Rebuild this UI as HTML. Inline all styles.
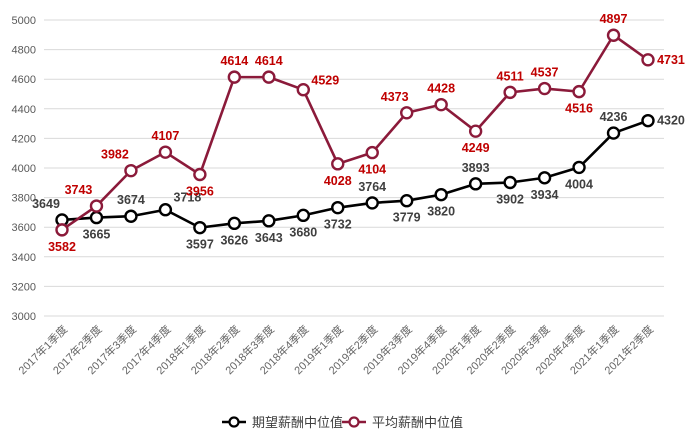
<!DOCTYPE html>
<html><head><meta charset="utf-8"><style>
html,body{margin:0;padding:0;background:#fff;}
svg{display:block;font-family:"Liberation Sans","Noto Sans CJK SC",sans-serif;}
</style></head><body>
<svg id="c" width="697" height="439" xmlns="http://www.w3.org/2000/svg"></svg>
<script>
const s=document.getElementById('c');
let h='';
const Y=v=>316-(v-3000)*0.148;
const X=i=>62+i*34.47;
for(let v=3000;v<=5000;v+=200){const y=Y(v);
h+=`<line x1="44" x2="664" y1="${y}" y2="${y}" stroke="#d9d9d9" stroke-width="1"/>`;
h+=`<text x="36" y="${y+4}" font-size="11" fill="#595959" text-anchor="end">${v}</text>`;}
const cats=["2017年1季度","2017年2季度","2017年3季度","2017年4季度","2018年1季度","2018年2季度","2018年3季度","2018年4季度","2019年1季度","2019年2季度","2019年3季度","2019年4季度","2020年1季度","2020年2季度","2020年3季度","2020年4季度","2021年1季度","2021年2季度"];
cats.forEach((c,i)=>{const x=X(i)+6,y=330;
h+=`<text x="${x}" y="${y}" font-size="11" fill="#666" text-anchor="end" transform="rotate(-45 ${x} ${y})">${c}</text>`;});
const b=[3649,3665,3674,3718,3597,3626,3643,3680,3732,3764,3779,3820,3893,3902,3934,4004,4236,4320];
const r=[3582,3743,3982,4107,3956,4614,4614,4529,4028,4104,4373,4428,4249,4511,4537,4516,4897,4731];
const U=[0,-12],D=[0,21],R=[23,4];
const bp=[[-16,-12],D,U,[22,-8],D,D,D,D,D,U,D,D,U,D,D,D,U,R];
const rp=[D,[-18,-12],[-16,-12],U,D,U,U,[22,-5],D,D,[-12,-12],U,D,U,U,D,U,R];
function series(d,col,lc,pos){
h+=`<polyline fill="none" stroke="${col}" stroke-width="2.6" stroke-linejoin="round" points="${d.map((v,i)=>X(i)+','+Y(v)).join(' ')}"/>`;
d.forEach((v,i)=>{h+=`<circle cx="${X(i)}" cy="${Y(v)}" r="5.5" fill="#fff" stroke="${col}" stroke-width="2.4"/>`;});
d.forEach((v,i)=>{const p=pos[i];h+=`<text x="${X(i)+p[0]}" y="${Y(v)+p[1]}" font-size="12.5" font-weight="bold" fill="${lc}" text-anchor="middle">${v}</text>`;});
}
series(b,"#000","#404040",bp);
series(r,"#8b1a3a","#c00000",rp);
h+=`<line x1="222" x2="246" y1="422" y2="422" stroke="#000" stroke-width="2.6"/><circle cx="234" cy="422" r="4.5" fill="#fff" stroke="#000" stroke-width="2.2"/>`;
h+=`<text x="252" y="427" font-size="13" fill="#404040">期望薪酬中位值</text>`;
h+=`<line x1="342" x2="366" y1="422" y2="422" stroke="#8b1a3a" stroke-width="2.6"/><circle cx="354" cy="422" r="4.5" fill="#fff" stroke="#8b1a3a" stroke-width="2.2"/>`;
h+=`<text x="372" y="427" font-size="13" fill="#404040">平均薪酬中位值</text>`;
s.innerHTML=h;
</script>
</body></html>
